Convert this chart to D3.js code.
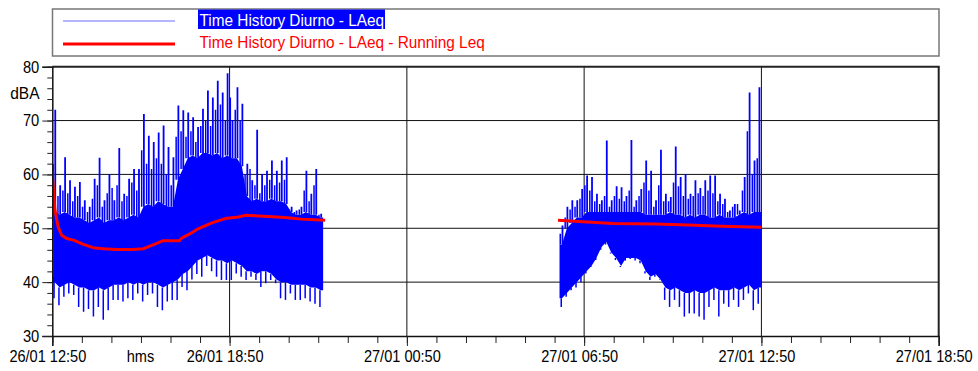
<!DOCTYPE html>
<html>
<head>
<meta charset="utf-8">
<script src="https://cdn.jsdelivr.net/npm/d3@7"></script>
<style>
  body { margin: 0; background: #fff; }
  text { font-family: "Liberation Sans", Arial, sans-serif; font-size: 16px; }
</style>
</head>
<body>
<div id="chart"></div>
<script>
// ---- data ----
// blue time history, summarised in 10 minute bins (dBA):
// highest spike, a second spike, dense band top / bottom, lowest spike
const seg1Start = "26/01/2024 12:50";
const seg1Hi = [72,58,63.2,58.9,57.7,58.6,55.2,54,59.2,63.1,55.2,60.1,55.2,64.9,56.4,59.2,61,61,71.2,67.2,66,67.8,69.1,65.1,63.2,72.8,71.9,71.5,70.6,68.8,72.2,75.6,74.3,77.4,75.2,78.8,70,76.2,73.1,62,58.9,68.3,60.1,60.7,62.6,60.7,62.6,63.2,54,53.3,54,60.7,56.4,61,52.7];
const seg1Hi2 = [62,56,57,56.5,55,56,54,53,55.5,58,54,56.5,57.5,58,55,56,58.5,57,64.5,62,61,63,62,60,58,67,68,67,68,66,69,70,69,72,73,70,74.3,72,70,60,61,58,56.5,58,59,58,58.5,59,53.5,53,53.5,57,55,58,52.5];
const seg1CoreHi = [53,52.5,53,52.5,52,52,51.5,51,51.5,52,51,51.5,51.5,52,51.5,52,52.5,52,54,54.5,54,55,54.5,54,54,59,61,63,63.5,63,64,64,63.5,64,63,63.5,63,63,61.5,56,55,55.5,55,55,55.5,55,55,54.5,53,52.5,52.5,53,52.5,52.5,52];
const seg1CoreLo = [40,39,39.5,40,39.5,39,39,38.5,38.5,39,38.5,39,39.5,39.5,39.5,40,39.5,40,39.5,40,40,39.5,39,39.5,40,40.5,41.5,42,43,44,44.5,45,44.5,44,44,43.5,44,43.5,43,42,42,41.5,42,42,41.5,40.5,40,40,39.5,39.5,39.5,39.5,39,39,38.5];
const seg1Lo = [37,35.7,37.3,37.9,37.6,35.4,34.5,35,33.6,35.4,33,34.8,36.7,36.7,36.4,37,36.7,37.9,36.4,37.6,37.9,35.4,34.8,36.4,36.7,36.7,39.1,38.5,40.5,41.5,41,43,42,41,40.4,40.4,40.4,41.6,41,40.4,41,40.4,39.1,39.8,40.4,39.8,37,36.7,37.9,36.7,36.7,37,36.4,36,35.4];

const seg2Start = "27/01/2024 06:00";
const seg2Hi = [50.5,54,55.2,55.2,57.3,59.8,59.5,56.4,55.2,66.3,55.2,57.8,57.6,56,66.4,55.2,57.3,62.6,60.7,55.2,64.6,56.4,55.8,65.2,59.5,60.1,56.4,58.9,57.5,58.9,59.8,59.8,56.4,55.5,53.3,54.5,53.3,59.5,75.2,62.6,76.2];
const seg2Hi2 = [49,52,53.5,54,55.5,58,57,55,54.5,56,54,56,55.5,55,57,54,56,58.5,57,54,58,55,55,58.5,57.8,56,55.5,56,56.5,56,57,56.5,55,54.5,53,54,54.5,57,68,60,63];
const seg2CoreHi = [47,50,51,52,52,53,53,53,53,53,53,53,53,53,53,53,53,52.5,52.5,52.5,52.5,52.5,53,52.5,52.5,52,52.5,52,52.5,52.5,52,52,52.5,52,52,52,52.5,53,52.5,53,53];
const seg2CoreLo = [37,38,39,40,41,42,43,44.5,46.5,47.5,45.5,44.5,43,44.5,44.5,44.5,44,42,41,41.5,40.5,39,38.5,39,38.5,38,38,38.5,38,38,38.5,39,38.5,38.5,38.5,39,38.5,39,39.5,38.5,39];
const seg2Lo = [35.4,37.3,38.5,39,40,41.6,42.8,44.1,46,47,45.3,44.1,42.8,44,44.3,44,43.5,41.6,40.4,41,40.4,36.7,35.4,36.7,35.4,33.6,34.2,34.2,33.6,33,35.4,36.7,33.6,36,35.4,36.7,35.4,36.7,37.9,34.8,36];

// red running Leq: minutes after 26/01 12:50, value
const red1Min = [0,0,5.5,12,19,29,43,63,83,104,131,164,185,198,212,225,246,258,263,280,296,324,351,378,391,439,472,506,554];
const red1Val = [41,60.1,53.3,50.2,48.7,48.1,47.8,47,46.4,46.2,46.05,46.05,46.2,46.7,47.2,47.7,47.7,47.7,48.2,49,49.9,51,51.8,52.1,52.4,52.2,52,51.7,51.5];
const red2Min = [1027,1078,1139,1224,1291,1359,1440];
const red2Val = [51.5,51.2,50.9,50.8,50.6,50.4,50.2];

const binMinutes = 10;
const yTicksMajor = [30,40,50,60,70,80];
const legendLabels = ["Time History Diurno - LAeq", "Time History Diurno - LAeq - Running Leq"];

// ---- layout ----
const width = 978, height = 371;
const pLeft = 52.3, pRight = 938.7, pTop = 66.7, pBottom = 336;

const parse = d3.timeParse("%d/%m/%Y %H:%M");
const tStart = parse("26/01/2024 12:50");
const tEnd = d3.timeHour.offset(tStart, 30);
const addMin = (d, m) => new Date(d.getTime() + m * 60000);

const x = d3.scaleTime().domain([tStart, tEnd]).range([pLeft, pRight]);
const y = d3.scaleLinear().domain([30, 80]).range([pBottom, pTop]);

const svg = d3.select("#chart").append("svg")
  .attr("width", width).attr("height", height)
  .style("background", "#fff");

// the reference font is a little condensed: squeeze each text horizontally around its anchor
function narrow(sel, f) {
  sel.each(function() {
    const t = d3.select(this);
    const tx = +t.attr("x") || 0, ty = +t.attr("y") || 0;
    t.attr("x", 0).attr("y", 0).attr("transform", `translate(${tx},${ty}) scale(${f},1)`);
  });
}

// legend
svg.append("rect").attr("x", 52.5).attr("y", 9).attr("width", 886.5).attr("height", 47)
  .attr("fill", "none").attr("stroke", "#777").attr("stroke-width", 1.5);
svg.append("line").attr("x1", 63).attr("x2", 175).attr("y1", 21).attr("y2", 21)
  .attr("stroke", "#6b6bff").attr("stroke-width", 1.2);
svg.append("line").attr("x1", 63).attr("x2", 175).attr("y1", 44).attr("y2", 44)
  .attr("stroke", "#ff0000").attr("stroke-width", 3);
svg.append("rect").attr("x", 198).attr("y", 9.5).attr("width", 187).attr("height", 19.5).attr("fill", "#0000ff");
svg.append("text").attr("x", 199.5).attr("y", 25.5).attr("fill", "#fff").text(legendLabels[0]).call(narrow, 0.96);
svg.append("text").attr("x", 199.5).attr("y", 48).attr("fill", "#ff0000").text(legendLabels[1]).call(narrow, 0.96);

// grid
const grid = svg.append("g");
grid.selectAll("line.h").data([40, 50, 60, 70]).join("line")
  .attr("x1", pLeft).attr("x2", pRight).attr("y1", d => y(d)).attr("y2", d => y(d))
  .attr("stroke", "#111").attr("stroke-width", 1);
const sixHours = d3.range(0, 31, 6).map(h => d3.timeHour.offset(tStart, h));
grid.selectAll("line.v").data(sixHours.slice(1, -1)).join("line")
  .attr("x1", d => x(d)).attr("x2", d => x(d)).attr("y1", pTop).attr("y2", pBottom)
  .attr("stroke", "#111").attr("stroke-width", 1);

// data
svg.append("clipPath").attr("id", "plot").append("rect")
  .attr("x", pLeft).attr("y", pTop).attr("width", pRight - pLeft).attr("height", pBottom - pTop);
const plot = svg.append("g").attr("clip-path", "url(#plot)");

function spikes(s, bins, pos, from, to, w) {
  plot.append("g").selectAll("line").data(bins).join("line")
    .attr("x1", d => x(addMin(s, (d.i + pos) * binMinutes)))
    .attr("x2", d => x(addMin(s, (d.i + pos) * binMinutes)))
    .attr("y1", d => y(d[from])).attr("y2", d => y(d[to]))
    .attr("stroke", "#0000ff").attr("stroke-width", w);
}

function drawSegment(startStr, hi, hi2, coreHi, coreLo, lo) {
  const s = parse(startStr);
  const bins = hi.map((v, i) => ({
    i, hi: v, hi2: hi2[i], cHi: coreHi[i], cLo: coreLo[i], lo: lo[i],
    t: addMin(s, (i + 0.5) * binMinutes)
  }));
  const pts = [{ ...bins[0], t: s }, ...bins, { ...bins[bins.length - 1], t: addMin(s, bins.length * binMinutes) }];
  plot.append("path").datum(pts)
    .attr("fill", "#0000ff")
    .attr("d", d3.area().x(d => x(d.t)).y0(d => y(d.cLo)).y1(d => y(d.cHi)));
  spikes(s, bins, 0.6, "cHi", "hi", 1.8);
  spikes(s, bins, 0.15, "cHi", "hi2", 1.5);
  spikes(s, bins, 0.35, "cLo", "lo", 1.5);
}
drawSegment(seg1Start, seg1Hi, seg1Hi2, seg1CoreHi, seg1CoreLo, seg1Lo);
drawSegment(seg2Start, seg2Hi, seg2Hi2, seg2CoreHi, seg2CoreLo, seg2Lo);

const redLine = d3.line().x(d => x(addMin(tStart, d[0]))).y(d => y(d[1]));
[[red1Min, red1Val], [red2Min, red2Val]].forEach(([m, v]) => {
  plot.append("path").datum(m.map((t, i) => [t, v[i]]))
    .attr("fill", "none").attr("stroke", "#ff0000").attr("stroke-width", 3)
    .attr("stroke-linejoin", "round").attr("d", redLine);
});

// frame
svg.append("line").attr("x1", pLeft).attr("x2", pRight + 1).attr("y1", pTop).attr("y2", pTop)
  .attr("stroke", "#222").attr("stroke-width", 2);
svg.append("line").attr("x1", pRight).attr("x2", pRight).attr("y1", pTop).attr("y2", pBottom)
  .attr("stroke", "#222").attr("stroke-width", 2);

// x axis
const hours = d3.range(0, 31).map(h => d3.timeHour.offset(tStart, h));
const fmt = d3.timeFormat("%d/%m %H:%M");
const xMinor = svg.append("g").attr("transform", `translate(0,${pBottom})`)
  .call(d3.axisBottom(x).tickValues(hours).tickSize(7).tickFormat(""));
const xMajor = svg.append("g").attr("transform", `translate(0,${pBottom})`)
  .call(d3.axisBottom(x).tickValues(sixHours).tickSize(10).tickFormat(fmt));
xMinor.select(".domain").remove();
xMajor.select(".domain").attr("stroke", "#111").attr("stroke-width", 1.5);
xMajor.selectAll("text").attr("y", 25.5).attr("dy", null).attr("x", -5)
  .attr("fill", "#000").style("font-size", "16px").call(narrow, 0.91);
svg.append("text").attr("x", 140.5).attr("y", pBottom + 25.5).attr("text-anchor", "middle")
  .text("hms").call(narrow, 0.91);

// y axis
const yMinor = svg.append("g").attr("transform", `translate(${pLeft},0)`)
  .call(d3.axisLeft(y).tickValues(d3.range(30, 81, 2)).tickSize(5).tickFormat(""));
const yMajor = svg.append("g").attr("transform", `translate(${pLeft},0)`)
  .call(d3.axisLeft(y).tickValues(yTicksMajor).tickSize(10).tickFormat(d3.format("d")));
yMinor.select(".domain").remove();
yMajor.select(".domain").attr("stroke", "#111").attr("stroke-width", 1.5);
svg.selectAll(".tick line").attr("stroke", "#222");
yMajor.selectAll("text").attr("x", -13).attr("dy", null).attr("y", 5.3)
  .attr("fill", "#000").style("font-size", "16px").call(narrow, 0.92);
svg.append("text").attr("x", 39.5).attr("y", 99).attr("text-anchor", "end").text("dBA").call(narrow, 0.97);
</script>
</body>
</html>
